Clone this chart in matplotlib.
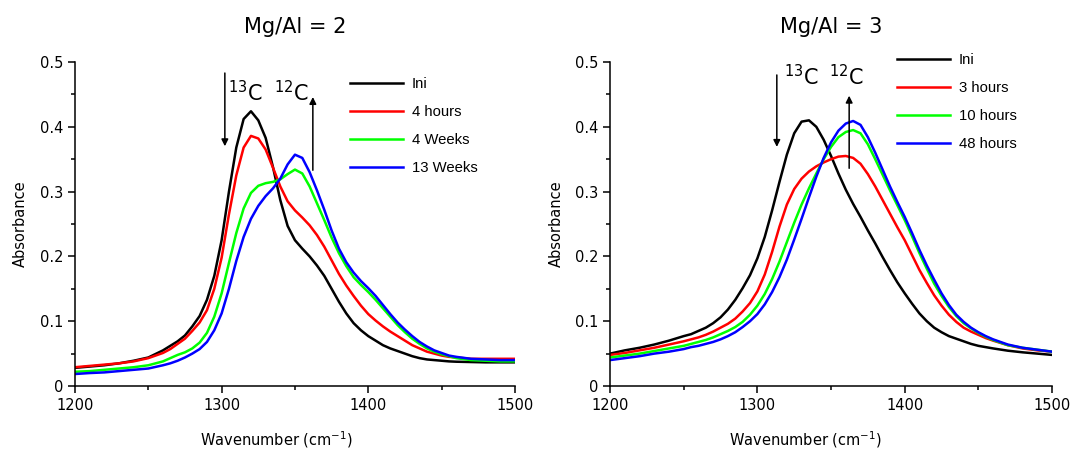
import matplotlib
matplotlib.use("Agg")
import matplotlib.pyplot as plt
from matplotlib.ticker import MultipleLocator


# DATA

# Mg/Al = 2 panel
x_mg2 = [1200, 1210, 1220, 1230, 1240, 1250, 1260, 1265,
         1270, 1275, 1280, 1285, 1290, 1295, 1300, 1305, 1310, 1315,
         1320, 1325, 1330, 1335, 1340, 1345, 1350, 1355, 1360, 1365,
         1370, 1375, 1380, 1385, 1390, 1395, 1400, 1405, 1410, 1415,
         1420, 1425, 1430, 1435, 1440, 1445, 1450, 1455, 1460,
         1470, 1480, 1490, 1500]
ini_mg2 = [0.028, 0.030, 0.032, 0.035, 0.039, 0.044, 0.055, 0.062,
           0.069, 0.078, 0.092, 0.108, 0.133, 0.170, 0.225, 0.300, 0.368, 0.412,
           0.424, 0.410, 0.383, 0.338, 0.287, 0.247, 0.225, 0.212, 0.200, 0.186,
           0.170, 0.150, 0.130, 0.112, 0.097, 0.086, 0.077, 0.070, 0.063, 0.058,
           0.054, 0.050, 0.046, 0.043, 0.041, 0.040, 0.039, 0.038, 0.0375,
           0.037, 0.0365, 0.0365, 0.0365]
h4_mg2 = [0.029, 0.031, 0.033, 0.035, 0.038, 0.043, 0.051, 0.057,
          0.065, 0.073, 0.085, 0.098, 0.117, 0.150, 0.198, 0.265, 0.325, 0.368,
          0.386, 0.382, 0.365, 0.337, 0.308, 0.285, 0.271, 0.260, 0.248, 0.233,
          0.215, 0.194, 0.173, 0.155, 0.139, 0.124, 0.111, 0.101, 0.092, 0.084,
          0.077, 0.070, 0.063, 0.058, 0.053, 0.050, 0.047, 0.045, 0.044,
          0.042, 0.042, 0.042, 0.042]
w4_mg2 = [0.022, 0.023, 0.025, 0.027, 0.029, 0.032, 0.038, 0.043,
          0.048, 0.052, 0.058, 0.067, 0.082, 0.107, 0.143, 0.190, 0.236, 0.274,
          0.298, 0.309, 0.313, 0.315, 0.319, 0.327, 0.334, 0.328, 0.308, 0.282,
          0.256, 0.229, 0.205, 0.185, 0.168, 0.156, 0.145, 0.133, 0.120, 0.107,
          0.094, 0.083, 0.073, 0.065, 0.058, 0.053, 0.049, 0.046, 0.043,
          0.040, 0.039, 0.038, 0.038]
w13_mg2 = [0.0185, 0.020, 0.021, 0.023, 0.025, 0.027, 0.032, 0.035,
           0.039, 0.044, 0.050, 0.057, 0.068, 0.086, 0.112, 0.150, 0.193, 0.230,
           0.258, 0.278, 0.293, 0.305, 0.320, 0.342, 0.357, 0.352, 0.330, 0.302,
           0.272, 0.240, 0.212, 0.191, 0.175, 0.162, 0.151, 0.139, 0.125, 0.111,
           0.098, 0.087, 0.077, 0.068, 0.061, 0.055, 0.051, 0.047, 0.045,
           0.042, 0.041, 0.040, 0.040]

# Mg/Al = 3 panel
x_mg3 = [1200, 1210, 1220, 1230, 1240, 1250, 1255, 1260, 1265,
         1270, 1275, 1280, 1285, 1290, 1295, 1300, 1305, 1310, 1315,
         1320, 1325, 1330, 1335, 1340, 1345, 1350, 1355, 1360, 1365,
         1370, 1375, 1380, 1385, 1390, 1395, 1400, 1405, 1410, 1415,
         1420, 1425, 1430, 1435, 1440, 1445, 1450, 1455, 1460,
         1470, 1480, 1490, 1500]
ini_mg3 = [0.050, 0.055, 0.059, 0.064, 0.070, 0.077, 0.080, 0.085, 0.090,
           0.097, 0.106, 0.118, 0.133, 0.151, 0.171, 0.197, 0.230, 0.271, 0.315,
           0.357, 0.390, 0.408, 0.410, 0.400, 0.380, 0.355, 0.328, 0.303, 0.281,
           0.261, 0.240, 0.220, 0.199, 0.179, 0.160, 0.143, 0.127, 0.112, 0.100,
           0.090, 0.083, 0.077, 0.073, 0.069, 0.065, 0.062, 0.060, 0.058,
           0.0545, 0.052, 0.050, 0.048]
h3_mg3 = [0.048, 0.051, 0.055, 0.059, 0.064, 0.069, 0.072, 0.075, 0.079,
          0.084, 0.090, 0.096, 0.104, 0.115, 0.128, 0.146, 0.172, 0.207, 0.246,
          0.280, 0.304, 0.320, 0.331, 0.339, 0.345, 0.350, 0.354, 0.355, 0.352,
          0.343, 0.327, 0.308, 0.287, 0.266, 0.245, 0.225, 0.202, 0.179, 0.159,
          0.140, 0.124, 0.110, 0.099, 0.090, 0.084, 0.079, 0.074, 0.070,
          0.063, 0.058, 0.055, 0.053]
h10_mg3 = [0.044, 0.047, 0.050, 0.054, 0.058, 0.062, 0.065, 0.068, 0.071,
           0.075, 0.080, 0.085, 0.091, 0.099, 0.110, 0.124, 0.142, 0.165, 0.192,
           0.222, 0.252, 0.280, 0.305, 0.328, 0.350, 0.369, 0.384, 0.392, 0.395,
           0.390, 0.373, 0.350, 0.326, 0.302, 0.279, 0.256, 0.231, 0.205, 0.181,
           0.158, 0.139, 0.122, 0.108, 0.097, 0.089, 0.082, 0.076, 0.071,
           0.063, 0.059, 0.056, 0.053]
h48_mg3 = [0.040, 0.043, 0.046, 0.050, 0.053, 0.057, 0.060, 0.062, 0.065,
           0.068, 0.072, 0.077, 0.083, 0.091, 0.100, 0.111, 0.126, 0.145, 0.168,
           0.195, 0.226, 0.258, 0.291, 0.323, 0.352, 0.376, 0.394, 0.405, 0.409,
           0.403, 0.384, 0.360, 0.334, 0.308, 0.284, 0.261, 0.236, 0.210, 0.186,
           0.164, 0.143, 0.125, 0.110, 0.099, 0.090, 0.083, 0.077, 0.072,
           0.064, 0.059, 0.056, 0.053]

labels_mg2 = ["Ini", "4 hours", "4 Weeks", "13 Weeks"]
labels_mg3 = ["Ini", "3 hours", "10 hours", "48 hours"]
colors = ["#000000", "#FF0000", "#00FF00", "#0000FF"]

x_ticks = [1200, 1300, 1400, 1500]
y_ticks = [0, 0.1, 0.2, 0.3, 0.4, 0.5]
y_ticklabels = ["0", "0.1", "0.2", "0.3", "0.4", "0.5"]


# FIGURE

fig = plt.figure(figsize=(10.71, 4.5), dpi=100)
ax1 = fig.add_axes([0.070, 0.1422, 0.4108, 0.72])
ax2 = fig.add_axes([0.5696, 0.1422, 0.4127, 0.72])

panels = [
    (ax1, x_mg2, [ini_mg2, h4_mg2, w4_mg2, w13_mg2], labels_mg2, "Mg/Al = 2",
     (0.625, 0.954), 0.457, -0.125),
    (ax2, x_mg3, [ini_mg3, h3_mg3, h10_mg3, h48_mg3], labels_mg3, "Mg/Al = 3",
     (0.649, 1.028), 0.443, -0.122),
]

for ax, x, series, labels, title, leg_pos, xlab_x, ylab_x in panels:
    for y, lab, c in zip(series, labels, colors):
        ax.plot(x, y, color=c, lw=1.8, label=lab, solid_joinstyle="round")

    ax.set_xlim(1200, 1500)
    ax.set_ylim(0, 0.5)
    ax.set_xticks(x_ticks)
    ax.set_yticks(y_ticks)
    ax.set_yticklabels(y_ticklabels)
    ax.xaxis.set_minor_locator(MultipleLocator(50))
    ax.yaxis.set_minor_locator(MultipleLocator(0.05))
    ax.tick_params(which="major", direction="out", length=5, width=1.1,
                   labelsize=10.5)
    ax.tick_params(which="minor", direction="out", length=3, width=1.1)

    for side in ["top", "right"]:
        ax.spines[side].set_visible(False)
    for side in ["left", "bottom"]:
        ax.spines[side].set_linewidth(1.1)

    ax.set_title(title, fontsize=15, pad=21)
    ax.set_ylabel("Absorbance", fontsize=10.5, va="center")
    ax.set_xlabel("Wavenumber (cm$^{-1}$)", fontsize=10.5, va="center")
    ax.xaxis.set_label_coords(xlab_x, -0.167)
    ax.yaxis.set_label_coords(ylab_x, 0.5)

    ax.legend(loc="upper left", bbox_to_anchor=leg_pos, frameon=False,
              borderpad=0, borderaxespad=0, handlelength=3.6,
              handletextpad=0.55, labelspacing=0.95,
              prop={"family": "Liberation Sans", "size": 10.7})


# ANNOTATIONS (isotope labels + arrows)

arrow = dict(arrowstyle="-|>", lw=1.1, color="black", mutation_scale=10,
             shrinkA=0, shrinkB=0)

ax1.annotate("", xy=(1302.2, 0.370), xytext=(1302.2, 0.483), arrowprops=arrow)
ax1.annotate("", xy=(1362.2, 0.446), xytext=(1362.2, 0.333), arrowprops=arrow)
ax1.text(1304.3, 0.439, r"$^{13}$C", fontsize=15)
ax1.text(1335.6, 0.439, r"$^{12}$C", fontsize=15)

ax2.annotate("", xy=(1313.2, 0.369), xytext=(1313.2, 0.480), arrowprops=arrow)
ax2.annotate("", xy=(1362.3, 0.448), xytext=(1362.3, 0.336), arrowprops=arrow)
ax2.text(1318.1, 0.464, r"$^{13}$C", fontsize=15)
ax2.text(1348.7, 0.464, r"$^{12}$C", fontsize=15)

fig.savefig("out.png", dpi=100)
plt.close(fig)
